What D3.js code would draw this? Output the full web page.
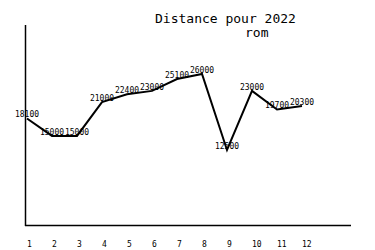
<!DOCTYPE html>
<meta charset="utf-8">
<script src="https://d3js.org/d3.v7.min.js"></script>
<style>
  body { margin: 0; background: #fff; }
  text { font-family: "DejaVu Sans Mono", monospace; fill: #000; }
</style>
<body>
<script>
  // data
  var months = [1, 2, 3, 4, 5, 6, 7, 8, 9, 10, 11, 12];
  var distance = [18100, 15000, 15000, 21000, 22400, 23000, 25100, 26000, 12500, 23000, 19700, 20300];

  var w = 375, h = 250;

  var svg = d3.select("body").append("svg")
    .attr("width", w)
    .attr("height", h);

  var x = d3.scaleLinear().domain([1, 12]).range([27, 302]);
  var y = d3.scaleLinear().domain([0, 34700]).range([220.4, 25]);

  // axes (plain lines)
  svg.append("line")
    .attr("x1", 25.5).attr("x2", 25.5)
    .attr("y1", 25).attr("y2", 226)
    .attr("stroke", "#000").attr("stroke-width", 1.5);
  svg.append("line")
    .attr("x1", 25).attr("x2", 351)
    .attr("y1", 225.5).attr("y2", 225.5)
    .attr("stroke", "#000").attr("stroke-width", 1.5);

  // x labels
  svg.selectAll(".xl")
    .data(months)
    .enter()
    .append("text")
    .attr("class", "xl")
    .attr("x", function (d) { return x(d); })
    .attr("y", 247)
    .attr("font-size", "8px")
    .text(function (d) { return d; });

  // line
  var line = d3.line()
    .x(function (d, i) { return x(months[i]); })
    .y(function (d) { return y(d); });

  svg.append("path")
    .datum(distance)
    .attr("d", line)
    .attr("fill", "none")
    .attr("stroke", "#000")
    .attr("stroke-width", 2);

  // value labels
  svg.selectAll(".vl")
    .data(distance)
    .enter()
    .append("text")
    .attr("class", "vl")
    .attr("x", function (d, i) { return x(months[i]); })
    .attr("y", function (d) { return y(d) - 1; })
    .attr("text-anchor", "middle")
    .attr("font-size", "8px")
    .text(function (d) { return d; });

  // title
  svg.append("text")
    .attr("x", 155).attr("y", 23)
    .attr("font-size", "13px")
    .text("Distance pour 2022");
  svg.append("text")
    .attr("x", 245).attr("y", 37)
    .attr("font-size", "13px")
    .text("rom");
</script>
</body>
